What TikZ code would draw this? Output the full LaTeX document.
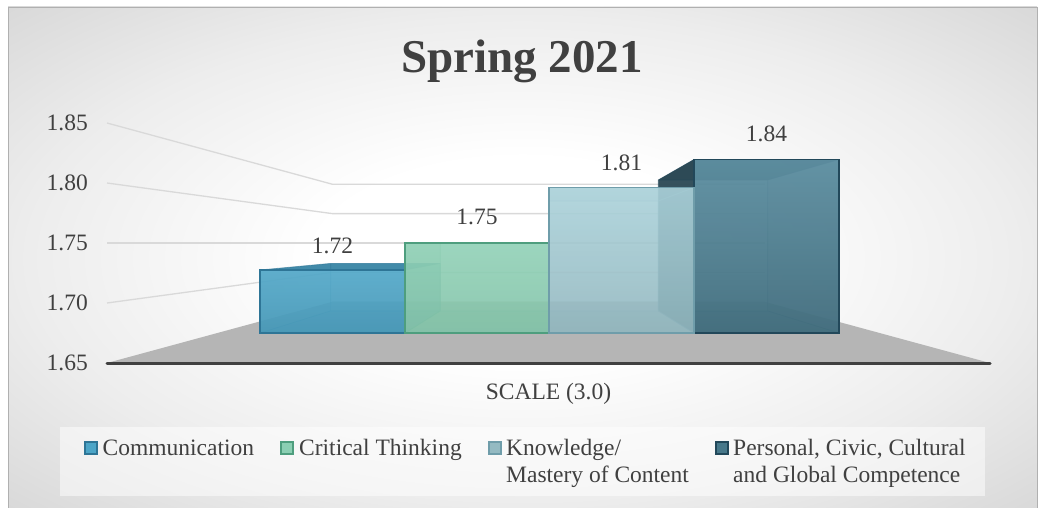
\documentclass[tikz,border=0pt]{standalone}
\usepackage{fontspec}
\setmainfont{Liberation Serif}
\definecolor{txt}{HTML}{404040}
\definecolor{bgin}{HTML}{EDEDED}
\definecolor{bgmid}{HTML}{D4D4D4}
\definecolor{bgout}{HTML}{C4C4C4}
\definecolor{grid}{HTML}{D9D9D9}
\definecolor{floorc}{HTML}{B5B5B5}
\definecolor{c1}{HTML}{4CA5C7}\definecolor{c1d}{HTML}{3A86A6}\definecolor{c1e}{HTML}{2E7596}
\definecolor{c2}{HTML}{8BCFB3}\definecolor{c2d}{HTML}{6CB598}\definecolor{c2e}{HTML}{4E9E7E}
\definecolor{c3}{HTML}{A5CFD8}\definecolor{c3d}{HTML}{86AEB9}\definecolor{c3e}{HTML}{6F9DAA}
\definecolor{c4}{HTML}{4F8599}\definecolor{c4d}{HTML}{2D4A56}\definecolor{c4e}{HTML}{22485A}
\pgfdeclareradialshading{chartbg}{\pgfpoint{0bp}{0bp}}{color(0bp)=(white); color(10bp)=(white); color(24bp)=(bgin); color(38bp)=(bgmid); color(50bp)=(bgout); color(71bp)=(bgout)}
\newcommand\cuboid[7]{%
  \fill[#7 back] (#3,#6) rectangle (#4,310.9);
  \fill[#7 bottom] (#1,333) -- (#2,333) -- (#4,310.9) -- (#3,310.9) -- cycle;
  \fill[#7 left] (#1,#5) -- (#3,#6) -- (#3,310.9) -- (#1,333) -- cycle;
  \fill[#7 right] (#2,#5) -- (#4,#6) -- (#4,310.9) -- (#2,333) -- cycle;
  \fill[#7 top] (#1,#5) -- (#2,#5) -- (#4,#6) -- (#3,#6) -- cycle;
  \draw[#7 edge, inner edge] (#3,#6) rectangle (#4,310.9) (#1,#5) -- (#3,#6) (#2,#5) -- (#4,#6) (#1,333) -- (#3,310.9) (#2,333) -- (#4,310.9);
  \shade[#7 front] (#1,#5) rectangle (#2,333);
  \draw[#7 edge, outer edge] (#1,#5) rectangle (#2,333);
}
\tikzset{
  inner edge/.style={line width=0.8pt, draw opacity=0.55},
  outer edge/.style={line width=1.1pt},
  lbl/.style={text=txt, inner sep=0pt, font=\fontsize{23.5}{27}\selectfont},
  gridline/.style={draw=grid, line width=1.3pt},
  legmark/.style={line width=1.2pt},
  b1 back/.style={fill=c1, fill opacity=0.18},
  b1 bottom/.style={fill=c1d, fill opacity=0.3},
  b1 left/.style={fill=c1d, fill opacity=0.2},
  b1 right/.style={fill=c1d, fill opacity=0.4},
  b1 top/.style={fill=c1d, fill opacity=0.95},
  b1 edge/.style={draw=c1e},
  b1 front/.style={top color=c1!95!white, bottom color=c1!92!black, fill opacity=0.92},
  b2 back/.style={fill=c2, fill opacity=0.18},
  b2 bottom/.style={fill=c2d, fill opacity=0.4},
  b2 left/.style={fill=c2d, fill opacity=0.35},
  b2 right/.style={fill=c2d, fill opacity=0},
  b2 top/.style={fill=c2d, fill opacity=0},
  b2 edge/.style={draw=c2e},
  b2 front/.style={top color=c2!95!white, bottom color=c2!94!black, fill opacity=0.88},
  b3 back/.style={fill=c3, fill opacity=0.18},
  b3 bottom/.style={fill=c3d, fill opacity=0.35},
  b3 left/.style={fill=c3d, fill opacity=0},
  b3 right/.style={fill=c3d, fill opacity=0.3},
  b3 top/.style={fill=c3d, fill opacity=0.3},
  b3 edge/.style={draw=c3e},
  b3 front/.style={top color=c3!92!white, bottom color=c3!88!black, fill opacity=0.88},
  b4 back/.style={fill=c4, fill opacity=0.2},
  b4 bottom/.style={fill=c4d, fill opacity=0.3},
  b4 left/.style={fill=c4d, fill opacity=0.95},
  b4 right/.style={fill=c4d, fill opacity=0.2},
  b4 top/.style={fill=c4d, fill opacity=0.9},
  b4 edge/.style={draw=c4e},
  b4 front/.style={top color=c4!92!white, bottom color=c4!82!black, fill opacity=0.94},
}
\begin{document}
\begin{tikzpicture}[x=1pt,y=-1pt]
\useasboundingbox (0,0) rectangle (1044,508);
\fill[white] (0,0) rectangle (1044,508);
\shade[shading=chartbg] (8,7) rectangle (1037,510);
\draw[bgout!90!black, line width=0.8pt] (8,510) -- (8,7) -- (1037,7) -- (1037,510);
% title
\node[lbl, anchor=base, font=\fontsize{47}{50}\selectfont\bfseries] (title) at (522,73) {Spring 2021};
% walls gridlines
\foreach \yf/\yb in {123/184.2, 183/213.6, 243/243, 303/272.4}{
  \draw[gridline] (107,\yf) -- (332.2,\yb) -- (764.8,\yb);
}
% floor
\fill[floorc] (107,363) -- (990,363) -- (764.8,301.8) -- (332.2,301.8) -- cycle;
\draw[gridline] (332.2,301.8) -- (764.8,301.8);
\draw[txt, line width=3pt, line cap=round] (107,363) -- (990,363);
% axis labels
\node[lbl, anchor=east] (y185) at (88,123) {1.85};
\node[lbl, anchor=east] (y180) at (88,183) {1.80};
\node[lbl, anchor=east] (y175) at (88,243) {1.75};
\node[lbl, anchor=east] (y170) at (88,303) {1.70};
\node[lbl, anchor=east] (y165) at (88,363) {1.65};
% bars
\cuboid{260}{405}{330.8}{440.2}{270}{263.4}{b1}
\cuboid{405}{549}{440.2}{548.9}{243}{243}{b2}
\cuboid{694}{839}{658.3}{767.7}{159.5}{180}{b4}
\cuboid{549}{694}{548.9}{658.3}{187.5}{201}{b3}
% data labels
\node[lbl] (v1) at (332.5,245.5) {1.72};
\node[lbl] (v2) at (477,217) {1.75};
\node[lbl] (v3) at (621.5,162.5) {1.81};
\node[lbl] (v4) at (766.5,134) {1.84};
% axis title
\node[lbl, anchor=base] (axis) at (548.5,399) {SCALE (3.0)};
% legend
\fill[white, fill opacity=0.5] (60,427) rectangle (985,496);
\draw[legmark, fill=c1, draw=c1e] (85,442) rectangle (97,454);
\draw[legmark, fill=c2, draw=c2e] (281,442) rectangle (293,454);
\draw[legmark, fill=c3!90!black, draw=c3e] (489,442) rectangle (501,454);
\draw[legmark, fill=c4!90!black, draw=c4e] (716,442) rectangle (728,454);
\node[lbl, anchor=base west] (l1) at (102.5,455) {Communication};
\node[lbl, anchor=base west] (l2) at (299,455) {Critical Thinking};
\node[lbl, anchor=base west] (l3a) at (506,455) {Knowledge/};
\node[lbl, anchor=base west] (l3b) at (506,482) {Mastery of Content};
\node[lbl, anchor=base west] (l4a) at (733,455) {Personal, Civic, Cultural};
\node[lbl, anchor=base west] (l4b) at (733,482) {and Global Competence};
\end{tikzpicture}
\end{document}
